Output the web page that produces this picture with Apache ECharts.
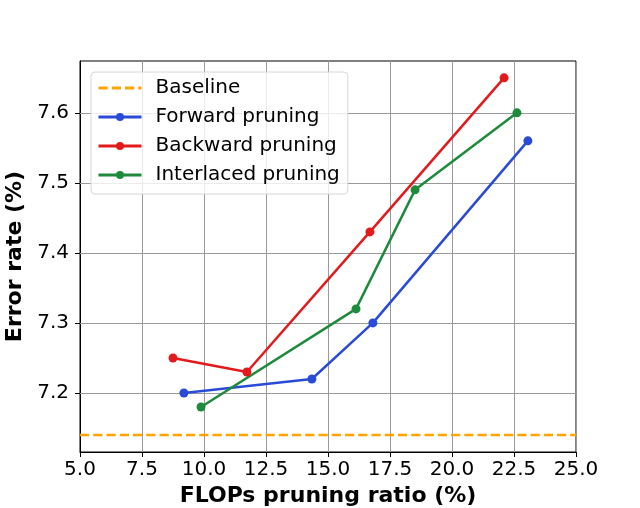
<!DOCTYPE html>
<html>
<head>
<meta charset="utf-8">
<script src="https://cdn.jsdelivr.net/npm/echarts@6/dist/echarts.min.js"></script>
<style>
  html, body { margin: 0; padding: 0; background: #fff; }
  #main { width: 640px; height: 508px; }
</style>
</head>
<body>
<div id="main"></div>
<script>
// values
var baseline = 7.14;
var forwardX = [9.19, 14.35, 16.81, 23.06];
var forwardY = [7.20, 7.22, 7.30, 7.56];
var backwardX = [8.75, 11.73, 16.69, 22.10];
var backwardY = [7.25, 7.23, 7.43, 7.65];
var interlacedX = [9.88, 16.13, 18.51, 22.62];
var interlacedY = [7.18, 7.32, 7.49, 7.60];
var xRange = [5, 25];
var yRange = [7.1157, 7.674];
var yTicks = [7.2, 7.3, 7.4, 7.5, 7.6];

function pairs(xs, ys) {
  return xs.map(function (x, i) { return [x, ys[i]]; });
}

var myChart = echarts.init(document.getElementById('main'));
var font = 'DejaVu Sans';

function lineSeries(name, color, xs, ys) {
  return {
    name: name,
    type: 'line',
    data: pairs(xs, ys),
    symbol: 'circle',
    symbolSize: 9,
    itemStyle: { color: color },
    lineStyle: { color: color, width: 2.5 },
    z: 3
  };
}

var option = {
  animation: false,
  grid: {
    left: 80, right: 64, top: 61, bottom: 56,
    outerBoundsMode: 'none',
    containLabel: false,
    show: true, borderColor: '#000', borderWidth: 1
  },
  legend: {
    left: 91, top: 72,
    z: 10,
    orient: 'vertical',
    itemWidth: 43, itemHeight: 10, itemGap: 9,
    padding: [6, 8, 9, 6],
    borderColor: '#d6d6d6', borderWidth: 1, borderRadius: 4,
    backgroundColor: 'rgba(255,255,255,0.8)',
    lineStyle: { width: 3 },
    textStyle: { fontFamily: font, fontSize: 20, color: '#000', padding: [0, 0, 0, 9] },
    data: [
      { name: 'Baseline', itemStyle: { opacity: 0 } },
      'Forward pruning', 'Backward pruning', 'Interlaced pruning'
    ]
  },
  xAxis: {
    type: 'value',
    min: xRange[0], max: xRange[1], interval: 2.5,
    name: 'FLOPs pruning ratio (%)',
    nameLocation: 'middle', nameGap: 32,
    nameTextStyle: { fontFamily: font, fontSize: 22, fontWeight: 'bold', color: '#000' },
    axisLine: { lineStyle: { color: '#000' } },
    axisTick: { inside: false, length: 5, lineStyle: { color: '#000' } },
    axisLabel: { fontFamily: font, fontSize: 20, color: '#000', margin: 8,
      formatter: function (v) { return v.toFixed(1); } },
    splitLine: { lineStyle: { color: '#999', width: 1 } }
  },
  yAxis: {
    type: 'value',
    min: yRange[0], max: yRange[1],
    name: 'Error rate (%)',
    nameLocation: 'middle', nameGap: 50,
    nameTextStyle: { fontFamily: font, fontSize: 22, fontWeight: 'bold', color: '#000' },
    axisLine: { lineStyle: { color: '#000' } },
    axisTick: { inside: false, length: 5, lineStyle: { color: '#000' }, customValues: yTicks },
    axisLabel: { fontFamily: font, fontSize: 20, color: '#000', margin: 11, customValues: yTicks,
      formatter: function (v) { return v.toFixed(1); } },
    splitLine: { show: false }
  },
  series: [
    {
      name: 'Baseline',
      type: 'line',
      data: [[xRange[0], baseline], [xRange[1], baseline]],
      symbol: 'none',
      itemStyle: { color: '#ffa500' },
      lineStyle: { color: '#ffa500', width: 2.5, type: [9.25, 4] },
      // horizontal grid lines at the labelled y ticks
      markLine: {
        silent: true,
        z: 1,
        symbol: 'none',
        label: { show: false },
        lineStyle: { color: '#999', width: 1, type: 'solid' },
        data: yTicks.map(function (v) { return { yAxis: v }; })
      },
      z: 2
    },
    lineSeries('Forward pruning', '#2a4bd7', forwardX, forwardY),
    lineSeries('Backward pruning', '#e31a1c', backwardX, backwardY),
    lineSeries('Interlaced pruning', '#1d8a3c', interlacedX, interlacedY)
  ]
};

myChart.setOption(option);
window.onresize = myChart.resize;
</script>
</body>
</html>
